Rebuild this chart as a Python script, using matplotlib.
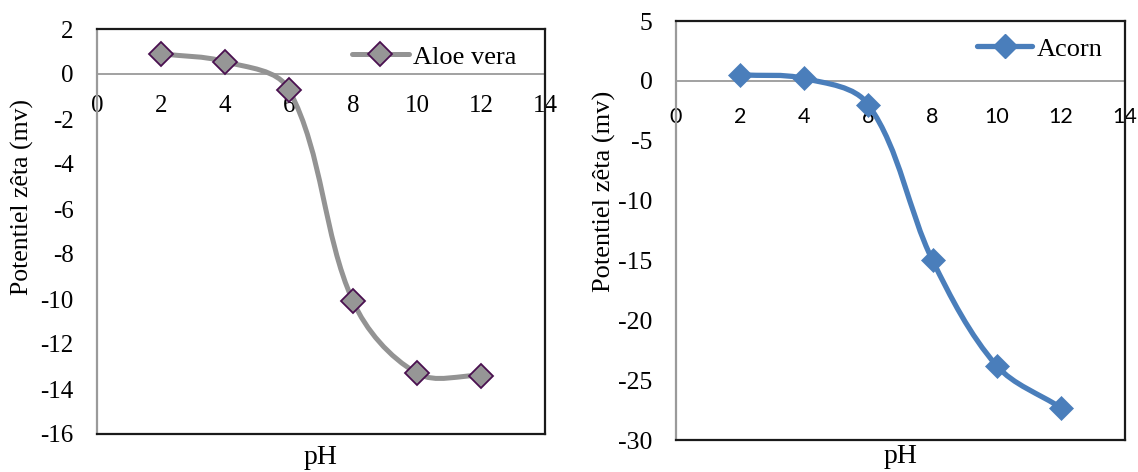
import math
import matplotlib
matplotlib.use("Agg")
import matplotlib.pyplot as plt
from matplotlib.path import Path
from matplotlib.patches import PathPatch
from matplotlib.lines import Line2D

plt.rcParams['axes.unicode_minus'] = False
plt.rcParams['font.family'] = ['Liberation Serif', 'DejaVu Serif']

# ---- data ----
ph = [2, 4, 6, 8, 10, 12]
aloe_vera = [0.9, 0.55, -0.7, -10.1, -13.3, -13.4]
acorn = [0.5, 0.2, -2.0, -15.0, -23.8, -27.3]

x_ticks = [0, 2, 4, 6, 8, 10, 12, 14]
left_yticks = [2, 0, -2, -4, -6, -8, -10, -12, -14, -16]
right_yticks = [5, 0, -5, -10, -15, -20, -25, -30]

GRAY_LINE = '#939393'
BLUE = '#4a7ebb'
FRAME = '#1a1a1a'
AXIS_GRAY = '#9a9a9a'


def smooth_path(ax, xs, ys):
    """Excel-like smoothed line: cubic Bezier segments through the data points,
    tangent arms scaled by on-screen segment lengths."""
    fig = ax.figure
    bb = ax.get_position()
    w = bb.width * fig.get_figwidth() * fig.dpi
    h = bb.height * fig.get_figheight() * fig.dpi
    x0, x1 = ax.get_xlim()
    y0, y1 = ax.get_ylim()
    sx, sy = w / (x1 - x0), h / (y1 - y0)

    def dist(a, b):
        return math.hypot((a[0] - b[0]) * sx, (a[1] - b[1]) * sy)

    pts = list(zip(xs, ys))
    n = len(pts)
    verts = [pts[0]]
    codes = [Path.MOVETO]
    for i in range(n - 1):
        p0 = pts[i - 1] if i > 0 else pts[i]
        p1 = pts[i]
        p2 = pts[i + 1]
        p3 = pts[i + 2] if i + 2 < n else pts[i + 1]
        d12 = dist(p1, p2)
        d02 = dist(p0, p2)
        d13 = dist(p1, p3)
        f1 = d12 / d02 / 3 if d02 > 0 else 0
        f2 = d12 / d13 / 3 if d13 > 0 else 0
        c1 = (p1[0] + (p2[0] - p0[0]) * f1, p1[1] + (p2[1] - p0[1]) * f1)
        c2 = (p2[0] - (p3[0] - p1[0]) * f2, p2[1] - (p3[1] - p1[1]) * f2)
        verts += [c1, c2, p2]
        codes += [Path.CURVE4] * 3
    return Path(verts, codes)


fig = plt.figure(figsize=(11.38, 4.72), dpi=100)

ax1 = fig.add_axes([97 / 1138, 1 - 434 / 472, 448 / 1138, 405 / 472])
ax2 = fig.add_axes([676 / 1138, 1 - 440 / 472, 449 / 1138, 419 / 472])


def style_axes(ax, ylim, yticks, xtick_font, xtick_size, xpad, ysize):
    ax.set_xlim(0, 14)
    ax.set_ylim(*ylim)
    for s in ['top', 'right', 'bottom']:
        ax.spines[s].set_color(FRAME)
        ax.spines[s].set_linewidth(1.6)
    ax.spines['left'].set_color(AXIS_GRAY)
    ax.spines['left'].set_linewidth(1.6)
    ax.set_xticks([])
    ax.set_yticks(yticks)
    ax.set_yticklabels([str(v) for v in yticks])
    ax.tick_params(axis='y', length=0, labelsize=ysize, pad=17)
    # horizontal category axis crossing at y = 0
    pos = (0 - ylim[0]) / (ylim[1] - ylim[0])
    sec = ax.secondary_xaxis(pos)
    sec.set_alignment('bottom')
    sec.spines['bottom'].set_color(AXIS_GRAY)
    sec.spines['bottom'].set_linewidth(1.3)
    sec.set_xticks(x_ticks)
    sec.set_xticklabels([str(v) for v in x_ticks], fontfamily=xtick_font)
    sec.tick_params(axis='x', length=0, labelsize=xtick_size, pad=xpad)
    return sec


style_axes(ax1, (-16, 2), left_yticks, ['Liberation Serif'], 18, 15, 18)
style_axes(ax2, (-30, 5), right_yticks, ['Lato', 'DejaVu Sans'], 15.5, 19, 18.5)

# ---- left: Aloe vera ----
ax1.add_patch(PathPatch(smooth_path(ax1, ph, aloe_vera), fill=False,
                        edgecolor=GRAY_LINE, linewidth=3.6,
                        capstyle='round', zorder=3))
ax1.plot(ph, aloe_vera, linestyle='none', marker='D', markersize=12,
         markerfacecolor='#969696', markeredgecolor='#4a1050',
         markeredgewidth=1.3, zorder=4)
h1 = Line2D([], [], color=GRAY_LINE, linewidth=3.6, solid_capstyle='round',
            marker='D', markersize=12, markerfacecolor='#969696',
            markeredgecolor='#4a1050', markeredgewidth=1.3)
ax1.legend([h1], ['Aloe vera'], loc='center left',
           bbox_to_anchor=((352 - 97) / 448, (434 - 57) / 405),
           frameon=False, fontsize=19, handlelength=2.15,
           handletextpad=0.15, borderpad=0, borderaxespad=0, numpoints=1)
ax1.set_ylabel('Potentiel zêta (mv)', fontsize=18.5, va='center')
ax1.yaxis.set_label_coords(-0.167, 0.585)
ax1.set_xlabel('pH', fontsize=20, va='center')
ax1.xaxis.set_label_coords(0.5, -0.059)

# ---- right: Acorn ----
ax2.add_patch(PathPatch(smooth_path(ax2, ph, acorn), fill=False,
                        edgecolor=BLUE, linewidth=3.8,
                        capstyle='round', zorder=3))
ax2.plot(ph, acorn, linestyle='none', marker='D', markersize=12,
         markerfacecolor=BLUE, markeredgecolor=BLUE, markeredgewidth=0.5,
         zorder=4)
h2 = Line2D([], [], color=BLUE, linewidth=3.8, solid_capstyle='round',
            marker='D', markersize=12, markerfacecolor=BLUE,
            markeredgecolor=BLUE)
ax2.legend([h2], ['Acorn'], loc='center left',
           bbox_to_anchor=((977 - 676) / 449, (440 - 49) / 419),
           frameon=False, fontsize=19, handlelength=2.1,
           handletextpad=0.15, borderpad=0, borderaxespad=0, numpoints=1)
ax2.set_ylabel('Potentiel zêta (mv)', fontsize=19, va='center')
ax2.yaxis.set_label_coords(-0.160, 0.594)
ax2.set_xlabel('pH', fontsize=20, va='center')
ax2.xaxis.set_label_coords(0.5, -0.040)

fig.savefig('out.png', dpi=100)
